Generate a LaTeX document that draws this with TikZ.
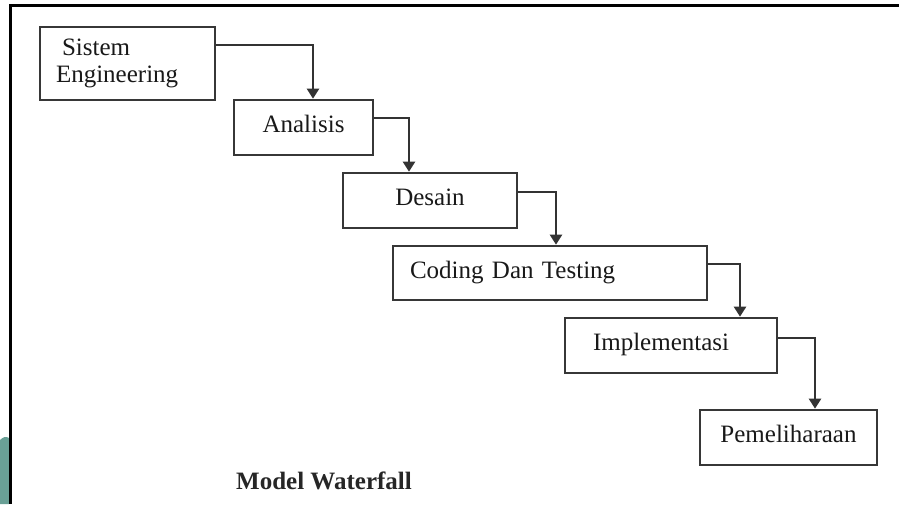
\documentclass[tikz,border=0pt]{standalone}
\usepackage{fontspec}
\setmainfont{Liberation Serif}
\usetikzlibrary{arrows.meta}
\definecolor{boxline}{RGB}{55,55,55}
\definecolor{tealblob}{RGB}{105,160,150}
\tikzset{
  stage/.style={draw=boxline, line width=2.6pt, fill=white, inner sep=0pt,
    minimum height=55pt, text height=17pt, text depth=7pt,
    font=\fontsize{25}{27}\selectfont, text=black!90},
  flow/.style={draw=black!80, line width=2.2pt,
    -{Triangle[width=12pt,length=10pt]}},
  frameline/.style={line width=3pt, black}
}
\begin{document}
\begin{tikzpicture}[x=1pt, y=-1pt]
\useasboundingbox (0,0) rectangle (899,504);
% frame
\fill[tealblob] (0,440) .. controls (3,437) and (6,436) .. (9,438) -- (9,504) -- (0,504) -- cycle;
\draw[frameline] (899,5) -- (10,5) -- (10,504);
% stages
\node[stage, minimum width=175pt, minimum height=73pt, text width=143pt, inner xsep=16pt,
  align=left, text height=, text depth=] (sis) at (127.5,63.5) {\hspace*{6pt}Sistem\\Engineering};
\node[stage, minimum width=139pt] (ana) at (303.5,127.5) {Analisis};
\node[stage, minimum width=174pt] (des) at (430,200.5) {Desain};
\node[stage, text width=280pt, inner xsep=17pt, align=left, minimum height=54pt] (cod) at (550,273) {Coding Dan Testing};
\node[stage, text width=156pt, inner xsep=28pt, align=left] (imp) at (671,345.5) {Implementasi};
\node[stage, minimum width=177pt] (pem) at (788.5,437.5) {Pemeliharaan};
% connectors
\draw[flow] ([yshift=18.5pt]sis.east) -| ([xshift=9.5pt]ana.north);
\draw[flow] ([yshift=9.5pt]ana.east) -| ([xshift=-21pt]des.north);
\draw[flow] ([yshift=8.5pt]des.east) -| ([xshift=6pt]cod.north);
\draw[flow] ([yshift=9pt]cod.east) -| ([xshift=69pt]imp.north);
\draw[flow] ([yshift=7.5pt]imp.east) -| ([xshift=26.5pt]pem.north);
% caption
\node[font=\fontsize{25}{27}\selectfont\bfseries, text=black!85] (cap) at (324,481) {Model Waterfall};
\end{tikzpicture}
\end{document}
